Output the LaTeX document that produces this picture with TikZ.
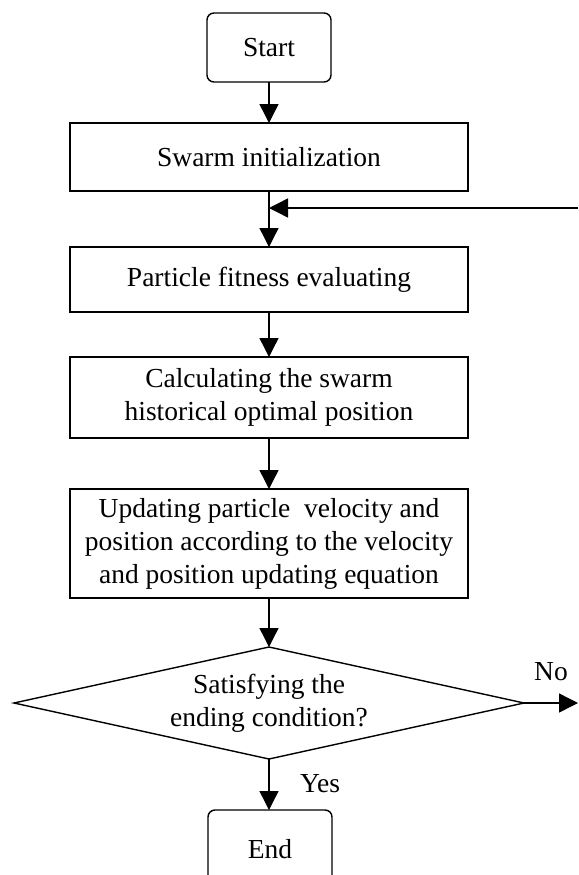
\documentclass[tikz,border=0pt]{standalone}
\usepackage{fontspec}
\setmainfont{Liberation Serif}
\usetikzlibrary{arrows.meta,shapes.geometric}

\begin{document}
\begin{tikzpicture}[
  x=1pt, y=-1pt,
  line width=1.4pt,
  every node/.style={font=\fontsize{27.5}{33}\selectfont, align=center, inner sep=0pt, outer sep=0pt},
  terminal/.style={draw, rounded corners=7pt, minimum width=124pt, minimum height=69pt},
  procbox/.style={draw, minimum width=398pt},
  decision/.style={draw, diamond, aspect=4.55, minimum width=510pt, minimum height=112pt},
  flow/.style={-{Triangle[width=19pt,length=19pt]}},
]
\clip (0,0) rectangle (578,875);

% terminals (the lower one runs past the bottom edge)
\node[terminal] (start) at (269,47.5) {Start};
\node[terminal, minimum height=78pt] (stop) at (270,849) {End};

% process steps
\node[procbox, minimum height=68pt]  (init)   at (269,157)   {Swarm initialization};
\node[procbox, minimum height=65pt]  (fit)    at (269,279.5) {Particle fitness evaluating};
\node[procbox, minimum height=81pt]  (best)   at (269,397.5) {Calculating the swarm\\historical optimal position};
\node[procbox, minimum height=109pt] (update) at (269,543.5) {Updating particle\ \ velocity and\\position according to the velocity\\and position updating equation};

% termination test
\node[decision] (test) at (269,703) {Satisfying the\\ending condition?};

% loop-back and exit points
\coordinate (loopin) at (578,208);
\coordinate (noout) at (578,703);

% main flow
\draw[flow] (start) -- (init);
\draw[flow] (init) -- (fit);
\draw[flow] (fit) -- (best);
\draw[flow] (best) -- (update);
\draw[flow] (update) -- (test);
\draw[flow] (test.south) -- (stop.north -| test.south);
\draw[flow] (test.east) -- (noout);
\draw[flow] (loopin) -- (init.south |- loopin);

% branch labels
\node[anchor=west] (yes) at (300,784) {Yes};
\node (no) at (551,672) {No};
\end{tikzpicture}
\end{document}
